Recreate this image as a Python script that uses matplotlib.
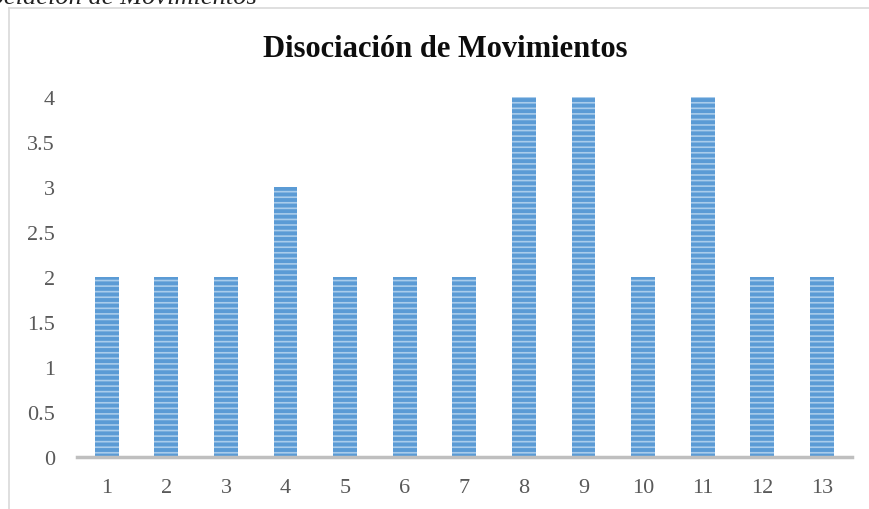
import matplotlib.pyplot as plt
from matplotlib.lines import Line2D

# values
categories = [str(i) for i in range(1, 14)]
values = [2, 2, 2, 3, 2, 2, 2, 4, 4, 2, 4, 2, 2]
y_ticks = [0, 0.5, 1, 1.5, 2, 2.5, 3, 3.5, 4]
y_tick_labels = ["0", "0.5", "1", "1.5", "2", "2.5", "3", "3.5", "4"]
title = "Disociación de Movimientos"

plt.rcParams["font.family"] = ["Liberation Serif", "DejaVu Serif"]
plt.rcParams["hatch.linewidth"] = 1.2
plt.rcParams["hatch.color"] = "#A9CCEB"

fig = plt.figure(figsize=(8.7, 5.1), dpi=100)
ax = fig.add_axes([0.0885, 0.102, 0.8905, 0.706])

x = list(range(len(categories)))
ax.bar(x, values, width=0.4, color="#5B9BD5", hatch="---",
       edgecolor="#A9CCEB", linewidth=0)

ax.set_xlim(-0.5, len(categories) - 0.5)
ax.set_ylim(0, 4)
ax.set_yticks(y_ticks)
ax.set_yticklabels(y_tick_labels)
ax.set_xticks(x)
ax.set_xticklabels(categories)
ax.tick_params(length=0, labelsize=16, colors="#595959")
ax.tick_params(axis="x", pad=15)
ax.tick_params(axis="y", pad=16)

for side in ["top", "right", "left"]:
    ax.spines[side].set_visible(False)
ax.spines["bottom"].set_color("#BFBFBF")
ax.spines["bottom"].set_linewidth(2.5)

fig.text(0.512, 0.903, title, ha="center", va="center", fontsize=22,
         fontweight="bold", color="#0D0D0D")

# chart frame (partly cut off in the reference)
fig.add_artist(Line2D([0.0105, 0.0105], [0, 0.982], color="#D9D9D9", lw=1.2))
fig.add_artist(Line2D([0.0105, 1.0], [0.982, 0.982], color="#D9D9D9", lw=1.2))

# caption above the chart, mostly cropped away
fig.text(-0.052, 1.003, title, ha="left", va="center", fontsize=19,
         fontstyle="italic", color="#222222")

fig.savefig("out.png", dpi=100)
